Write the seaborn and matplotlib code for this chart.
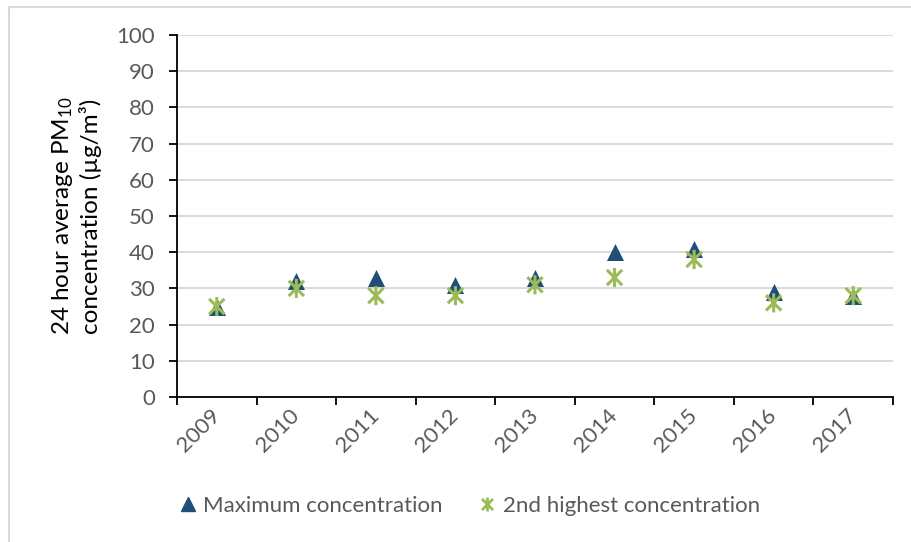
import numpy as np
import pandas as pd
import seaborn as sns
import matplotlib.pyplot as plt
from matplotlib.path import Path
from matplotlib.patches import Rectangle
from matplotlib.lines import Line2D

# Annual 24-hour PM10 concentrations
years = ["2009", "2010", "2011", "2012", "2013", "2014", "2015", "2016", "2017"]
max_conc = [25, 32, 33, 31, 33, 40, 41, 29, 28]
second_conc = [25, 30, 28, 28, 31, 33, 38, 26, 28]
series_names = ["Maximum concentration", "2nd highest concentration"]
y_ticks = list(range(0, 101, 10))

sns.set_theme(style="white")
plt.rcParams["font.family"] = ["Lato", "DejaVu Sans"]
plt.rcParams["mathtext.fontset"] = "custom"
plt.rcParams["mathtext.rm"] = "Lato"
plt.rcParams["mathtext.it"] = "Lato:italic"
plt.rcParams["mathtext.bf"] = "Lato:bold"

BLUE = "#1F4E79"
GREEN = "#9BBB59"
GREY_TXT = "#595959"
GRID = "#D9D9D9"

df_max = pd.DataFrame({"year": years, "value": max_conc})
df_2nd = pd.DataFrame({"year": years, "value": second_conc})

# star marker: an X crossed by a vertical stroke
star = Path(
    [(-1, -1), (1, 1), (-1, 1), (1, -1), (0, -1.25), (0, 1.25)],
    [Path.MOVETO, Path.LINETO, Path.MOVETO, Path.LINETO, Path.MOVETO, Path.LINETO],
)

fig = plt.figure(figsize=(9.11, 5.42), dpi=100)
ax = fig.add_axes([177 / 911, 1 - 397 / 542, (893 - 177) / 911, (397 - 35) / 542])

sns.scatterplot(data=df_max, x="year", y="value", ax=ax, marker="^",
                color=BLUE, edgecolor=BLUE, s=150, linewidth=0, zorder=3)
sns.scatterplot(data=df_2nd, x="year", y="value", ax=ax, marker=star,
                facecolor="none", edgecolor=GREEN, s=190, linewidth=2.2, zorder=4)

ax.set_xlim(-0.5, len(years) - 0.5)
ax.set_ylim(0, 100)
ax.set_yticks(y_ticks)
ax.yaxis.grid(True, color=GRID, linewidth=1.4)
ax.xaxis.grid(False)
ax.set_axisbelow(True)

ax.set_xticks(np.arange(-0.5, len(years)), labels=[""] * (len(years) + 1))
ax.set_xticks(range(len(years)), labels=years, minor=True)
ax.tick_params(axis="x", which="major", direction="out", length=6, width=1.3,
               color="black", bottom=True)
ax.tick_params(axis="x", which="minor", length=0, pad=11, labelsize=16,
               labelcolor=GREY_TXT)
for lbl in ax.get_xticklabels(minor=True):
    lbl.set_rotation(45)
    lbl.set_ha("right")
    lbl.set_va("center")
    lbl.set_rotation_mode("anchor")

ax.tick_params(axis="y", direction="out", length=6, width=1.3, color="black",
               left=True, labelsize=16, labelcolor=GREY_TXT, pad=10)

for side in ["top", "right"]:
    ax.spines[side].set_visible(False)
for side in ["left", "bottom"]:
    ax.spines[side].set_color("black")
    ax.spines[side].set_linewidth(1.3)

ax.set_xlabel("")
ax.set_ylabel("24 hour average PM$_{10}$\nconcentration (µg/m³)",
              fontsize=17.5, color="black", labelpad=10, linespacing=1.2)

handles = [
    Line2D([], [], linestyle="none", marker="^", markersize=10,
           markerfacecolor=BLUE, markeredgecolor=BLUE),
    Line2D([], [], linestyle="none", marker=star, markersize=10,
           markerfacecolor="none", markeredgecolor=GREEN, markeredgewidth=2),
]
fig.legend(handles, series_names, loc="center", bbox_to_anchor=(0.515, 1 - 506 / 542),
           ncol=2, frameon=False, fontsize=16, labelcolor=GREY_TXT,
           handlelength=0.8, handletextpad=0.3, columnspacing=1.6)

# light outer frame
fig.patches.append(Rectangle((9 / 911, -0.2), 1.2, 1.2 - 6.5 / 542,
                             transform=fig.transFigure, fill=False,
                             edgecolor=GRID, linewidth=1.5))

fig.savefig("out.png", dpi=100)
